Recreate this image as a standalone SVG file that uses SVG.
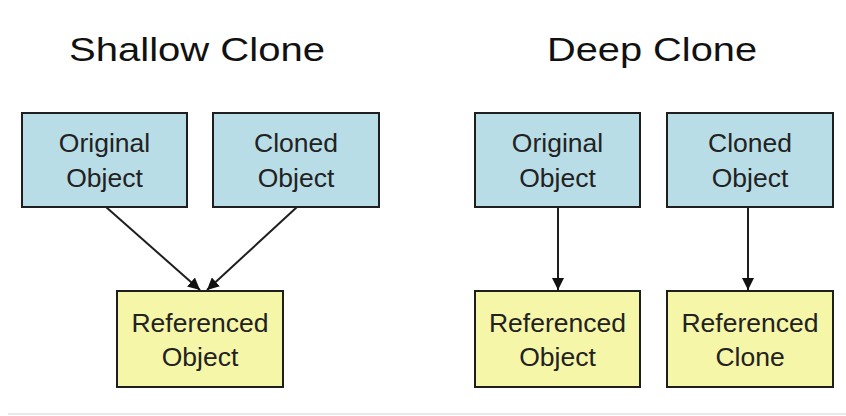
<svg xmlns="http://www.w3.org/2000/svg" width="846" height="416" viewBox="0 0 846 416">
<defs>
<style>
.title{font-family:"Liberation Sans",Arial,sans-serif;font-size:34px;fill:#111}
.lbl{font-family:"Liberation Sans",Arial,sans-serif;font-size:26.5px;fill:#222;text-anchor:middle}
.blue{fill:#b9dde6;stroke:#1e1e1e;stroke-width:2}
.yellow{fill:#f6f6a8;stroke:#1e1e1e;stroke-width:2}
.conn{stroke:#1e1e1e;stroke-width:2;fill:none;marker-end:url(#ah)}
</style>
<marker id="ah" viewBox="0 0 10 10" refX="10" refY="5" markerWidth="6" markerHeight="6" orient="auto" markerUnits="strokeWidth">
<path d="M0,0 L10,5 L0,10 z" fill="#111"/>
</marker>
</defs>
<rect width="846" height="416" fill="#fff"/>
<line x1="8" y1="414" x2="846" y2="414" stroke="#e2e2e2" stroke-width="1.5"/>
<text class="title" x="69" y="61" textLength="256" lengthAdjust="spacingAndGlyphs">Shallow Clone</text>
<text class="title" x="547" y="61" textLength="210" lengthAdjust="spacingAndGlyphs">Deep Clone</text>
<g id="connectors">
<line class="conn" x1="106" y1="207" x2="200" y2="290"/>
<line class="conn" x1="297" y1="207" x2="207" y2="290"/>
<line class="conn" x1="558" y1="207" x2="558" y2="290"/>
<line class="conn" x1="748" y1="207" x2="748" y2="290"/>
</g>
<g id="s-original"><rect class="blue" x="22" y="113" width="165" height="94"/><text class="lbl" x="104.5" y="152">Original</text><text class="lbl" x="104.5" y="187">Object</text></g>
<g id="s-cloned"><rect class="blue" x="213" y="113" width="166" height="94"/><text class="lbl" x="296" y="152">Cloned</text><text class="lbl" x="296" y="187">Object</text></g>
<g id="s-referenced"><rect class="yellow" x="117" y="291" width="166" height="96"/><text class="lbl" x="200" y="332">Referenced</text><text class="lbl" x="200" y="366">Object</text></g>
<g id="d-original"><rect class="blue" x="475" y="113" width="165" height="94"/><text class="lbl" x="557.5" y="152">Original</text><text class="lbl" x="557.5" y="187">Object</text></g>
<g id="d-cloned"><rect class="blue" x="667" y="113" width="166" height="94"/><text class="lbl" x="750" y="152">Cloned</text><text class="lbl" x="750" y="187">Object</text></g>
<g id="d-refobject"><rect class="yellow" x="475" y="291" width="165" height="96"/><text class="lbl" x="557.5" y="332">Referenced</text><text class="lbl" x="557.5" y="366">Object</text></g>
<g id="d-refclone"><rect class="yellow" x="667" y="291" width="166" height="96"/><text class="lbl" x="750" y="332">Referenced</text><text class="lbl" x="750" y="366">Clone</text></g>
</svg>
